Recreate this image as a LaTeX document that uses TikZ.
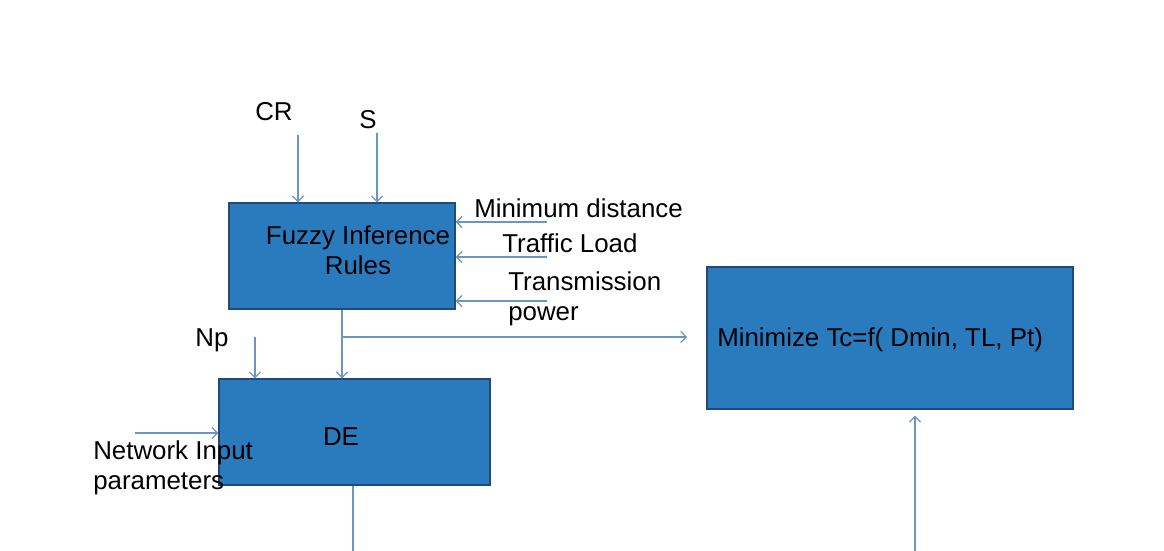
\documentclass[tikz,border=0pt]{standalone}
\usepackage{fontspec}
\setmainfont{Liberation Sans}
\usepackage{tikz}
\usetikzlibrary{arrows.meta}
\usetikzlibrary{calc}

\definecolor{boxblue}{RGB}{42,122,190}
\definecolor{boxline}{RGB}{34,74,120}
\definecolor{lineblue}{RGB}{105,150,195}

\begin{document}
\begin{tikzpicture}[x=0.025cm, y=-0.025cm, >={Straight Barb[length=4pt,width=8pt]},
        box_style/.style={rectangle,draw=boxline,fill=boxblue,line width=0.8pt,inner sep=0pt},
        text_style/.style={font=\fontsize{18.4}{21}\selectfont,text=black,inner sep=0pt},
        edge_style/.style={draw=lineblue, line width=0.9pt,->}]

        \useasboundingbox (0,0) rectangle (1164,551);

        \node [box_style,minimum width=5.65cm,minimum height=2.65cm](n1) at (342,256) {};

        \node [box_style,minimum width=6.775cm,minimum height=2.65cm](n2) at (354.5,432) {};

        \node [box_style,minimum width=9.15cm,minimum height=3.55cm](n3) at (890,338) {};

        \node [text_style,align=center](t1) at (358,250) {Fuzzy Inference\\Rules};

        \node [text_style](t2) at (341,437) {DE};

        \node [text_style,anchor=west](t3) at (717,340) {Minimize Tc=f( Dmin, TL, Pt)};

        \node [text_style](l1) at (274,112) {CR};

        \node [text_style](l2) at (368,120) {S};

        \node [text_style,anchor=west](l3) at (474,208) {Minimum distance};

        \node [text_style,anchor=west](l4) at (502,243) {Traffic Load};

        \node [text_style,anchor=west,align=left](l5) at (508,299) {Transmission\\power};

        \node [text_style](l6) at (212,340) {Np};

        % free ends of the input lines
        \coordinate (c1) at (298,135);
        \coordinate (c2) at (377,133);
        \coordinate (c3) at (547,222);
        \coordinate (c4) at (547,257);
        \coordinate (c5) at (547,301);
        \coordinate (c6) at (255,337);
        \coordinate (c7) at (135,433);
        \coordinate (j) at (342,337);
        \coordinate (b1) at (353,551);
        \coordinate (b2) at (915,551);

        \draw [edge_style] (c1) -- (c1 |- n1.north);

        \draw [edge_style] (c2) -- (c2 |- n1.north);

        \draw [edge_style] (c3) -- (c3 -| n1.east);

        \draw [edge_style] (c4) -- (c4 -| n1.east);

        \draw [edge_style] (c5) -- (c5 -| n1.east);

        \draw [draw=lineblue, line width=0.9pt] (n1.south) -- (j);

        \draw [edge_style] (j) -- (j |- n2.north);

        \draw [edge_style, shorten >=0.48cm] (j) -- (j -| n3.west);

        \draw [edge_style] (c6) -- (c6 |- n2.north);

        \draw [edge_style] (c7) -- (c7 -| n2.west);

        \draw [draw=lineblue, line width=0.9pt] (b1 |- n2.south) -- (b1);

        \draw [edge_style, shorten >=0.15cm] (b2) -- (b2 |- n3.south);

        \node [text_style,anchor=west,align=left](l7) at (93,468) {Network Input\\parameters};

        \end{tikzpicture}
\end{document}
